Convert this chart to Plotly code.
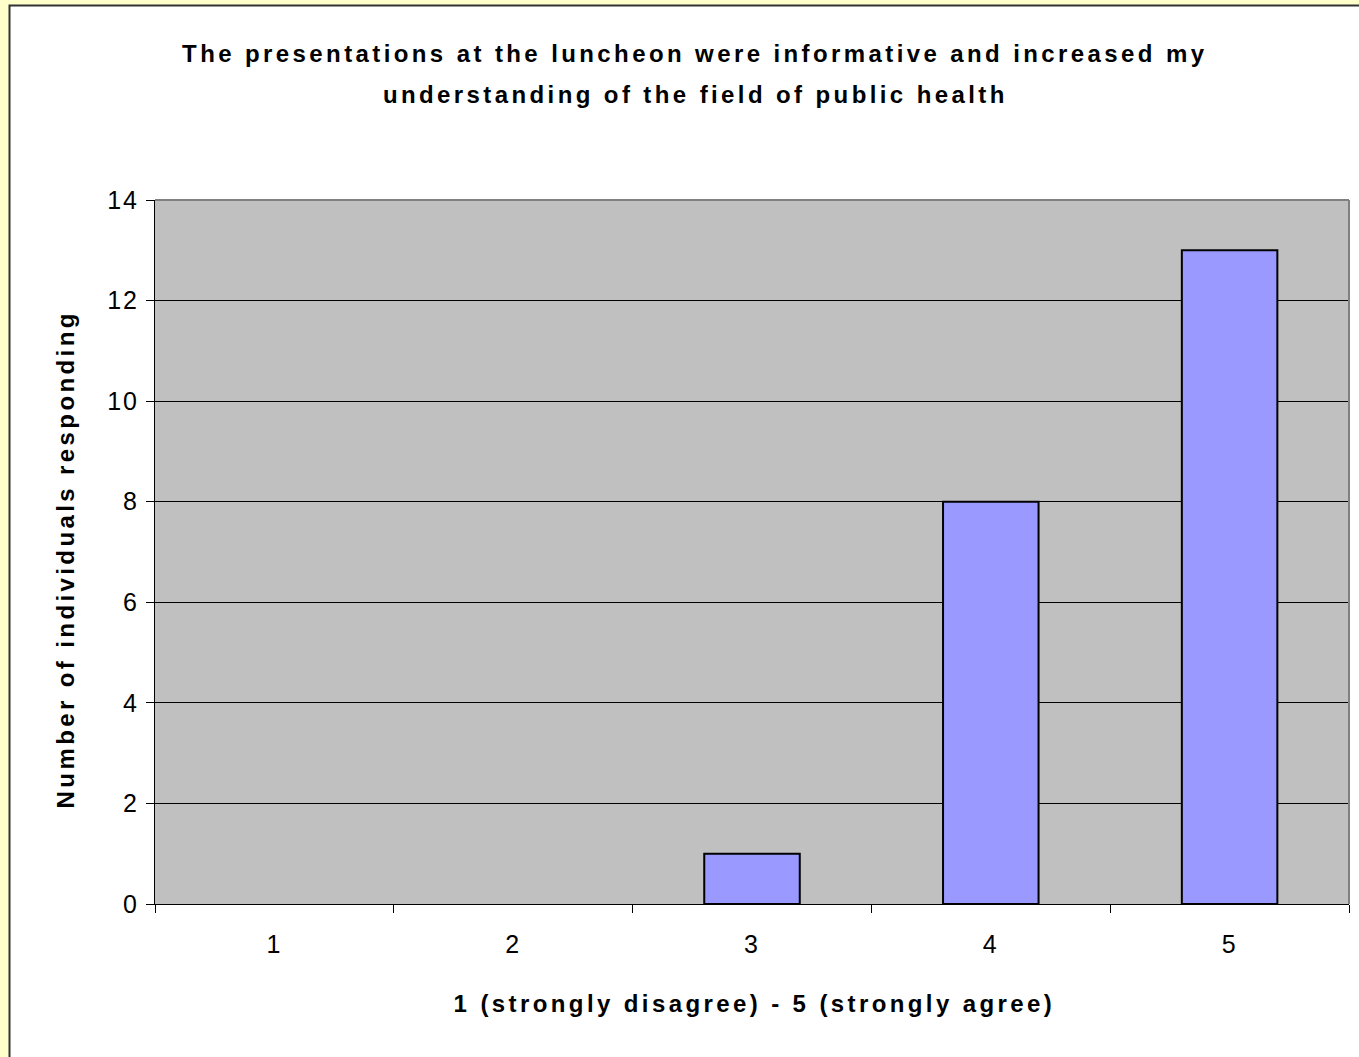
import plotly.graph_objects as go

categories = ["1", "2", "3", "4", "5"]
counts = [0, 0, 1, 8, 13]
y_ticks = [0, 2, 4, 6, 8, 10, 12, 14]

title_line1 = "The presentations at the luncheon were informative and increased my"
title_line2 = "understanding of the field of public health"
x_title = "1 (strongly disagree) - 5 (strongly agree)"
y_title = "Number of individuals responding"

W, H = 1359, 1057
px = lambda v: v / W
py = lambda v: 1 - v / H

FONT = "Liberation Sans, Arial, sans-serif"

fig = go.Figure()
fig.add_trace(go.Bar(
    x=categories, y=[v if v else None for v in counts],
    marker=dict(color="#9999FF", line=dict(color="black", width=2)),
    width=0.4,
    showlegend=False,
))

x0, x1 = px(155), px(1349)
y0, y1 = py(904), py(200)

fig.update_layout(
    template="none",
    width=W, height=H, autosize=False,
    margin=dict(l=0, r=0, t=0, b=0, pad=0, autoexpand=False),
    paper_bgcolor="#FFFFCC",
    plot_bgcolor="#C0C0C0",
    font=dict(family=FONT, color="black"),
    xaxis=dict(
        domain=[x0, x1],
        type="category",
        automargin=False,
        tickson="boundaries",
        ticks="outside", ticklen=8, tickcolor="black", tickwidth=1,
        showline=True, linecolor="black", linewidth=1,
        showgrid=False,
        tickfont=dict(size=25, family=FONT),
        ticklabelstandoff=18,
    ),
    yaxis=dict(
        domain=[y0, y1],
        range=[0, 14],
        automargin=False,
        tickvals=y_ticks,
        ticks="outside", ticklen=8, tickcolor="black", tickwidth=1,
        showline=True, linecolor="black", linewidth=1,
        showgrid=True, gridcolor="black", gridwidth=1,
        zeroline=False,
        tickfont=dict(size=25, family=FONT),
        ticklabelstandoff=2,
    ),
    shapes=[
        dict(type="rect", xref="paper", yref="paper",
             x0=px(9.5), x1=1.01, y0=-0.01, y1=py(5.5),
             fillcolor="white", line=dict(color="#333333", width=2), layer="below"),
        dict(type="rect", xref="paper", yref="paper",
             x0=x0, x1=x1, y0=y0, y1=y1,
             fillcolor="#C0C0C0", line=dict(width=0), layer="below"),
        dict(type="line", xref="paper", yref="paper",
             x0=x0, x1=x1, y0=y1, y1=y1,
             line=dict(color="#808080", width=2), layer="above"),
        dict(type="line", xref="paper", yref="paper",
             x0=x1, x1=x1, y0=y0, y1=y1,
             line=dict(color="#808080", width=2), layer="above"),
    ],
    annotations=[
        dict(text="<b>" + title_line1 + "</b>", xref="paper", yref="paper",
             x=px(695), y=py(53), xanchor="center", yanchor="middle",
             showarrow=False, font=dict(size=24, family=FONT)),
        dict(text="<b>" + title_line2 + "</b>", xref="paper", yref="paper",
             x=px(695), y=py(94), xanchor="center", yanchor="middle",
             showarrow=False, font=dict(size=24, family=FONT)),
        dict(text="<b>" + x_title + "</b>", xref="paper", yref="paper",
             x=px(754), y=py(1003), xanchor="center", yanchor="middle",
             showarrow=False, font=dict(size=24, family=FONT)),
        dict(text="<b>" + y_title + "</b>", xref="paper", yref="paper",
             x=px(65), y=py(560), xanchor="center", yanchor="middle",
             textangle=-90,
             showarrow=False, font=dict(size=24, family=FONT)),
    ],
)

post = """
document.body.style.margin = '0';
document.body.style.overflow = 'hidden';
var gd = document.getElementById('{plot_id}');
gd.querySelectorAll('.annotation-text').forEach(function(e){ e.style.letterSpacing = '3.4px'; });
gd.querySelectorAll('.xtick text, .ytick text').forEach(function(e){ e.style.letterSpacing = '2px'; });
"""

fig.write_html("out.html", post_script=post, config={"displayModeBar": False})
